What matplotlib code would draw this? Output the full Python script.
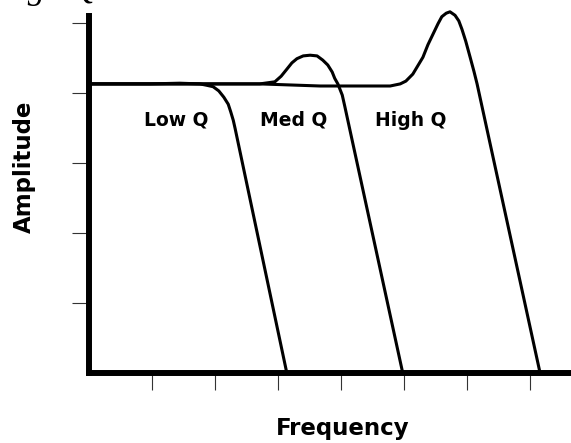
import matplotlib
matplotlib.use("Agg")
import matplotlib.pyplot as plt

# frequency / amplitude in tick units
low_q_x = [0, 0.97, 1.44, 1.76, 1.87, 1.97, 2.06, 2.14, 2.21, 2.25, 2.29, 2.32, 3.14]
low_q_y = [4.13, 4.13, 4.14, 4.13, 4.11, 4.09, 4.03, 3.94, 3.84, 3.73, 3.61, 3.49, 0]

med_q_x = [0, 2.71, 2.95, 3.05, 3.14, 3.22, 3.30, 3.40, 3.51, 3.62, 3.71, 3.79,
           3.86, 3.90, 3.95, 4.02, 4.06, 4.98]
med_q_y = [4.13, 4.13, 4.16, 4.24, 4.34, 4.43, 4.49, 4.53, 4.54, 4.53, 4.47, 4.40,
           4.30, 4.21, 4.13, 3.97, 3.81, 0]

high_q_x = [0, 2.71, 3.67, 4.78, 4.94, 5.03, 5.14, 5.22, 5.30, 5.38, 5.46, 5.54,
            5.60, 5.67, 5.73, 5.81, 5.87, 5.92, 5.98, 6.05, 6.11, 6.16, 7.16]
high_q_y = [4.13, 4.13, 4.10, 4.10, 4.13, 4.17, 4.27, 4.39, 4.51, 4.69, 4.84, 4.99,
            5.09, 5.14, 5.16, 5.11, 5.03, 4.91, 4.74, 4.51, 4.31, 4.13, 0]

x_ticks = [1, 2, 3, 4, 5, 6, 7]
y_ticks = [1, 2, 3, 4, 5]

labels = ["Low Q", "Med Q", "High Q"]
label_x = [1.39, 3.25, 5.11]
label_y = [3.53, 3.53, 3.53]

fig = plt.figure(figsize=(5.71, 4.43), dpi=100)
ax = fig.add_axes([89 / 571, 70 / 443, 1 - 89 / 571, (373 - 16) / 443])

for xs, ys in [(low_q_x, low_q_y), (med_q_x, med_q_y), (high_q_x, high_q_y)]:
    ax.plot(xs, ys, color="black", lw=2.2, solid_joinstyle="round",
            solid_capstyle="round", clip_on=False)

ax.set_xlim(0, (571 - 89) / 63)
ax.set_ylim(0, (373 - 16) / 70)
ax.set_xticks(x_ticks)
ax.set_yticks(y_ticks)
ax.set_xticklabels([])
ax.set_yticklabels([])
ax.tick_params(axis="both", direction="out", length=12, width=0.8, color="#333333")

for side in ["top", "right"]:
    ax.spines[side].set_visible(False)
for side in ["left", "bottom"]:
    ax.spines[side].set_linewidth(4.3)
    ax.spines[side].set_capstyle("projecting")

font = dict(family="DejaVu Sans", weight="bold")
for lab, lx, ly in zip(labels, label_x, label_y):
    ax.text(lx, ly, lab, ha="center", va="baseline", fontsize=13.5, **font)

fig.text(342.5 / 571, 1 - 435 / 443, "Frequency", ha="center", va="baseline",
         fontsize=16.5, **font)
fig.text(24 / 571, 1 - 167 / 443, "Amplitude", ha="center", va="center", rotation=90,
         fontsize=16.5, **font)

# caption of the next figure, cut off at the top edge
fig.text(-7 / 571, 1 + 2 / 443, "High Q", ha="left", va="baseline", fontsize=25,
         family="Liberation Serif", style="italic")

fig.savefig("out.png", dpi=100)
